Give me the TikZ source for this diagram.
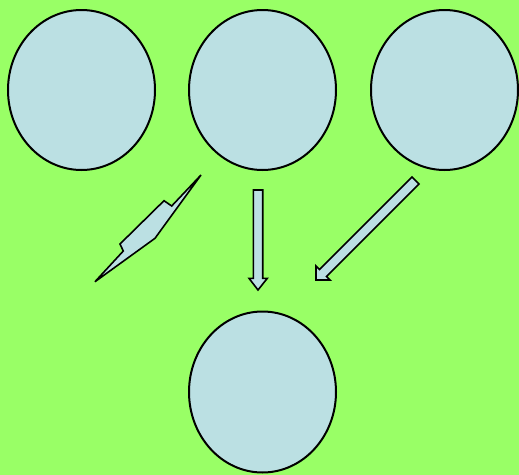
\documentclass[tikz,border=0pt]{standalone}
\usetikzlibrary{calc}
\definecolor{bggreen}{HTML}{99FF66}
\definecolor{lightblue}{HTML}{BBE0E3}
\begin{document}
\begin{tikzpicture}[x=0.75pt,y=-0.75pt,
  bubble/.style={draw=black,fill=lightblue,line width=1.5pt},
  shapeline/.style={draw=black,fill=lightblue,line width=1.2pt,line join=miter}]
\fill[bggreen] (0,0) rectangle (519,475);
\useasboundingbox (0,0) rectangle (519,475);
\coordinate (e1) at (81.5,90);
\coordinate (e2) at (262.5,90);
\coordinate (e3) at (444.5,90);
\coordinate (e4) at (262.5,392);
\foreach \c in {e1,e2,e3}{
  \draw[bubble] (\c) ellipse [x radius=73.5, y radius=80];
}
\draw[bubble] (e4) ellipse [x radius=73.5, y radius=80.5];
% lightning bolt
\draw[shapeline] (201,175) -- (171.7,206) -- (164,200.7) -- (120,244) -- (123.3,251) -- (95,281.7) -- (155,238.3) -- cycle;
% down arrow
\draw[shapeline] (253.3,190) -- (262.7,190) -- (262.7,278.3) -- (267.3,278.3) -- (258,290) -- (249,278.3) -- (253.3,278.3) -- cycle;
% diagonal arrow
\draw[shapeline] (412,177) -- (419,184) -- (326.6,276.5) -- (330.1,280) -- (316,280) -- (316,265.9) -- (319.5,269.4) -- cycle;
\end{tikzpicture}
\end{document}
